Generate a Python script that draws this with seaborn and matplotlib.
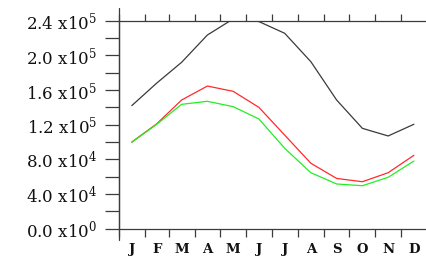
import numpy as np
import pandas as pd
import matplotlib
matplotlib.use("Agg")
import matplotlib.pyplot as plt
import seaborn as sns

months = ["J", "F", "M", "A", "M", "J", "J", "A", "S", "O", "N", "D"]
days_in_month = [31, 28, 31, 30, 31, 30, 31, 31, 30, 31, 30, 31]
black_vals = [1.42e5, 1.68e5, 1.92e5, 2.235e5, 2.42e5, 2.39e5, 2.255e5, 1.927e5, 1.485e5, 1.158e5, 1.07e5, 1.205e5]
red_vals = [1.0e5, 1.21e5, 1.485e5, 1.646e5, 1.585e5, 1.40e5, 1.08e5, 0.755e5, 0.58e5, 0.542e5, 0.646e5, 0.847e5]
green_vals = [0.997e5, 1.205e5, 1.435e5, 1.47e5, 1.408e5, 1.266e5, 0.928e5, 0.646e5, 0.516e5, 0.496e5, 0.593e5, 0.781e5]
ytick_vals = [0, 4e4, 8e4, 1.2e5, 1.6e5, 2.0e5, 2.4e5]
ytick_labels = [r"0.0 x10$^{0}$", r"4.0 x10$^{4}$", r"8.0 x10$^{4}$", r"1.2 x10$^{5}$",
                r"1.6 x10$^{5}$", r"2.0 x10$^{5}$", r"2.4 x10$^{5}$"]

sns.set_style("white")
plt.rcParams["font.family"] = ["DejaVu Serif"]
plt.rcParams["mathtext.fontset"] = "dejavuserif"

bounds = np.concatenate([[0], np.cumsum(days_in_month)])
centers = (bounds[:-1] + bounds[1:]) / 2.0

df = pd.DataFrame({
    "day": np.tile(centers, 3),
    "value": black_vals + red_vals + green_vals,
    "series": ["black"] * 12 + ["red"] * 12 + ["green"] * 12,
})

fig = plt.figure(figsize=(4.26, 2.57), dpi=100)
ax = fig.add_axes([118.7 / 426, (257 - 228.7) / 257, (427 - 118.7) / 426, 208 / 257])

palette = {"black": "#3a3a3a", "red": "#ff2a2a", "green": "#22ee22"}
sns.lineplot(data=df, x="day", y="value", hue="series", palette=palette,
             hue_order=["black", "red", "green"], legend=False, linewidth=0.9, ax=ax)

ax.set_xlim(0, 365)
ax.set_ylim(0, 2.4e5)
ax.set_xlabel("")
ax.set_ylabel("")

axis_col = "#3c3c3c"
for s in ax.spines.values():
    s.set_color(axis_col)
    s.set_linewidth(0.9)
ax.spines["right"].set_visible(False)

ax.set_xticks(bounds)
ax.set_xticklabels([])
ax.set_xticks(centers, minor=True)
ax.set_xticklabels(months, minor=True, fontsize=9.5, fontweight="bold", color="#111111")
ax.tick_params(axis="x", which="major", direction="out", length=5.4, width=0.9,
               color=axis_col, top=True, bottom=True)
ax.tick_params(axis="x", which="minor", length=0, pad=10, top=False, bottom=True)

ax.set_yticks(ytick_vals)
ax.set_yticklabels(ytick_labels, fontsize=12, color="#111111")
ax.set_yticks(np.arange(2e4, 2.4e5, 4e4), minor=True)
ax.tick_params(axis="y", which="both", direction="out", length=10, width=0.9,
               color=axis_col, left=True, right=False, pad=5.5)

ax.plot([0, 0], [-0.054, 1.061], transform=ax.transAxes, color=axis_col,
        linewidth=0.9, clip_on=False)

fig.savefig("out.png", dpi=100)
